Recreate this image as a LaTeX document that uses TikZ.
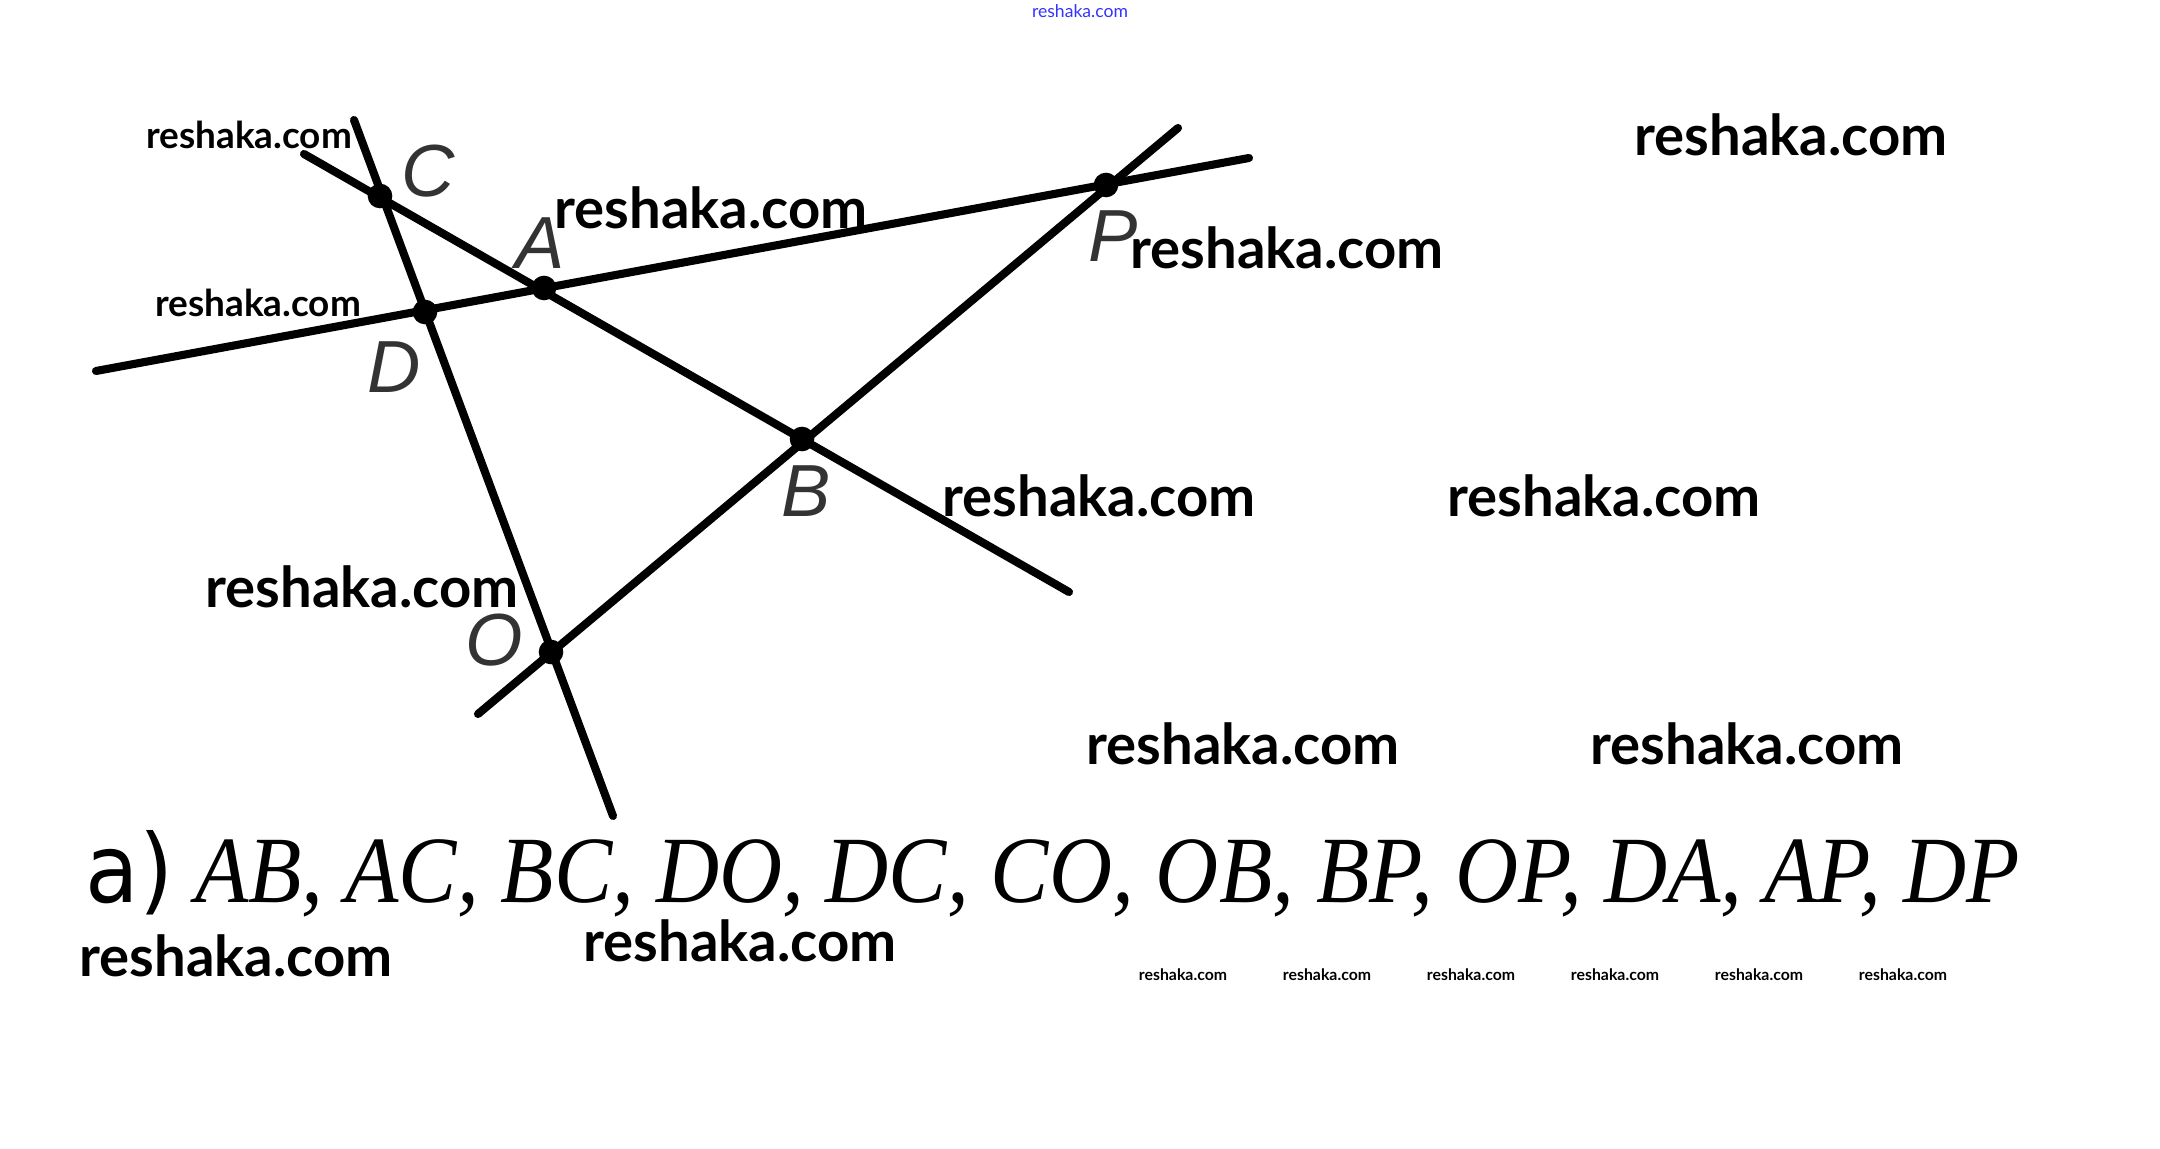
\documentclass[tikz,border=0pt]{standalone}
\usepackage{fontspec}
\setmainfont{Liberation Serif}
\newfontfamily\markfont{Lato}
\newfontfamily\labelfont{Liberation Sans}
\newfontfamily\sansfont{DejaVu Sans}
\usetikzlibrary{positioning}
\tikzset{line/.style = {line width=2.3pt, line cap=round}}
\tikzset{circ/.style = {fill, circle, inner sep = 0, minimum size = 7pt}}
\tikzset{lbl/.style = {font=\labelfont\itshape\fontsize{21}{21}\selectfont, text=black!80}}
\tikzset{wm/.style = {font=\markfont\bfseries\fontsize{#1}{#1}\selectfont, inner sep=0}}

\begin{document}
\begin{tikzpicture}[x=0.01cm, y=-0.01cm]
    \useasboundingbox (0,0) rectangle (2160,1149);
    % points
    \coordinate (C) at (380,196);
    \coordinate (D) at (425,312);
    \coordinate (A) at (544,288);
    \coordinate (P) at (1106,185);
    \coordinate (B) at (802,439);
    \coordinate (O) at (551,652);
    % line ends
    \coordinate (co1) at (354,120);
    \coordinate (co2) at (613,816);
    \coordinate (cb1) at (304,154);
    \coordinate (cb2) at (1069,592);
    \coordinate (dp1) at (96,371);
    \coordinate (dp2) at (1249,158);
    \coordinate (op1) at (478,714);
    \coordinate (op2) at (1178,128);
    \foreach \a/\b in {co1/co2, cb1/cb2, dp1/dp2, op1/op2} {
      \draw [line] (\a) -- (\b);
    }
    \foreach \p/\dx/\dy in {C/48/-25, A/-4/-45, P/7/51, D/-31/55, B/4/52, O/-57/-12} {
      \node [circ] (dot\p) at (\p) {};
      \node [lbl] (lbl\p) at ([shift={(\dx,\dy)}]\p) {\p};
    }
    % answer
    \node [anchor=base west, inner sep=0] (answer) at (85,902)
      {\scalebox{0.92}[1]{\fontsize{27}{30}\selectfont{\sansfont а)} \textit{AB, AC, BC, DO, DC, CO, OB, BP, OP, DA, AP, DP}}};
    % watermarks
    \foreach \x/\y in {1791/135, 711/208, 1287/248, 1099/496, 1604/496, 362/587,
                       1243/744, 1747/744, 236/956, 740/941} {
      \node [wm=16] (mark\x) at (\x,\y) {reshaka.com};
    }
    \foreach \x/\y in {249/135, 258/303} {
      \node [wm=10.5] (smark\x) at (\x,\y) {reshaka.com};
    }
    \foreach \x in {1183,1327,...,1903} {
      \node [wm=4.5] (tmark\x) at (\x,975) {reshaka.com};
    }
    \node [inner sep=0, text=blue!80, font=\markfont\fontsize{5}{5}\selectfont] (topmark) at (1080,11) {reshaka.com};
\end{tikzpicture}
\end{document}
